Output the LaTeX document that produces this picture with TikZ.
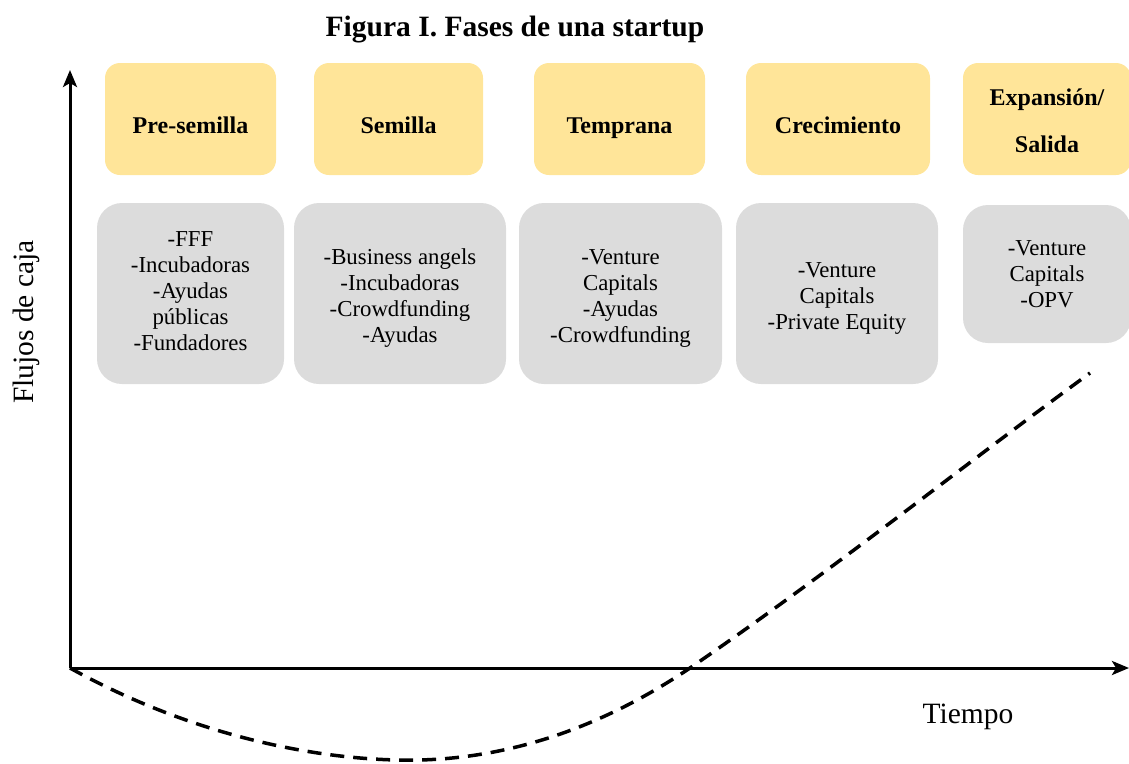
\documentclass[tikz,border=0pt]{standalone}
\usepackage{fontspec}
\setmainfont{Liberation Serif}
\usetikzlibrary{arrows.meta}
\definecolor{phasefill}{HTML}{FFE599}
\definecolor{fundfill}{HTML}{DCDCDC}

\begin{document}
\begin{tikzpicture}[x=1pt,y=-1pt,
  phasebox/.style={fill=phasefill, draw=none, rounded corners=15pt, inner sep=0pt,
    align=center, minimum height=112pt, text height=28pt, text depth=0pt,
    font=\fontsize{24}{28}\selectfont\bfseries},
  fundbox/.style={fill=fundfill, draw=none, rounded corners=25pt, inner sep=0pt,
    align=center, font=\fontsize{22.8}{26}\selectfont},
  axisline/.style={line width=3pt, -{Stealth[length=17pt,width=14pt,inset=4pt]}},
  cashflow/.style={line width=3.5pt, dash pattern=on 14pt off 9pt}]

\useasboundingbox (0,0) rectangle (1129,763);

% title
\node[font=\fontsize{29.5}{34}\selectfont\bfseries] (title) at (515,30) {Figura I. Fases de una startup};

% phase boxes
\node[phasebox, minimum width=171pt] (p1) at (190.5,119) {Pre-semilla};
\node[phasebox, minimum width=169pt] (p2) at (398.5,119) {Semilla};
\node[phasebox, minimum width=171pt] (p3) at (619.5,119) {Temprana};
\node[phasebox, minimum width=184pt] (p4) at (838,119) {Crecimiento};
\node[phasebox, minimum width=168pt, text height=, text depth=,
  font=\fontsize{24}{47}\selectfont\bfseries] (p5) at (1047,119)
  {\rule{0pt}{21pt}Expansión/\\Salida};

% funding sources (struts balance the text vertically in each box)
\node[fundbox, minimum width=187pt, minimum height=181pt] (f1) at (190.5,293.5)
  {-FFF\\-Incubadoras\\-Ayudas\\públicas\\-Fundadores\rule[-5pt]{0pt}{0pt}};
\node[fundbox, minimum width=212pt, minimum height=181pt] (f2) at (400,293.5)
  {\rule{0pt}{25pt}-Business angels\\-Incubadoras\\-Crowdfunding\\-Ayudas};
\node[fundbox, minimum width=203pt, minimum height=181pt] (f3) at (620.5,293.5)
  {\rule{0pt}{25pt}-Venture\\Capitals\\-Ayudas\\-Crowdfunding};
\node[fundbox, minimum width=202pt, minimum height=181pt] (f4) at (837,293.5)
  {\rule{0pt}{24pt}-Venture\\Capitals\\-Private Equity};
\node[fundbox, minimum width=168pt, minimum height=138pt] (f5) at (1047,274)
  {-Venture\\Capitals\\-OPV};

% axes
\coordinate (origin) at (70,668);
\coordinate (ytop) at (70,70);
\coordinate (xend) at (1129,668);
\draw[axisline] (origin) -- (ytop);
\draw[axisline] (origin) -- (xend);

\node[font=\fontsize{29.5}{34}\selectfont, rotate=90] (ylabel) at (26,322) {Flujos de caja};
\node[font=\fontsize{29.5}{34}\selectfont] (xlabel) at (968,717) {Tiempo};

% cash flow curve
\draw[cashflow] (origin) .. controls (200,740) and (330,762) .. (420,760)
  .. controls (530,757) and (620,715) .. (690,668)
  .. controls (830,572) and (960,468) .. (1090,373);
\end{tikzpicture}
\end{document}
